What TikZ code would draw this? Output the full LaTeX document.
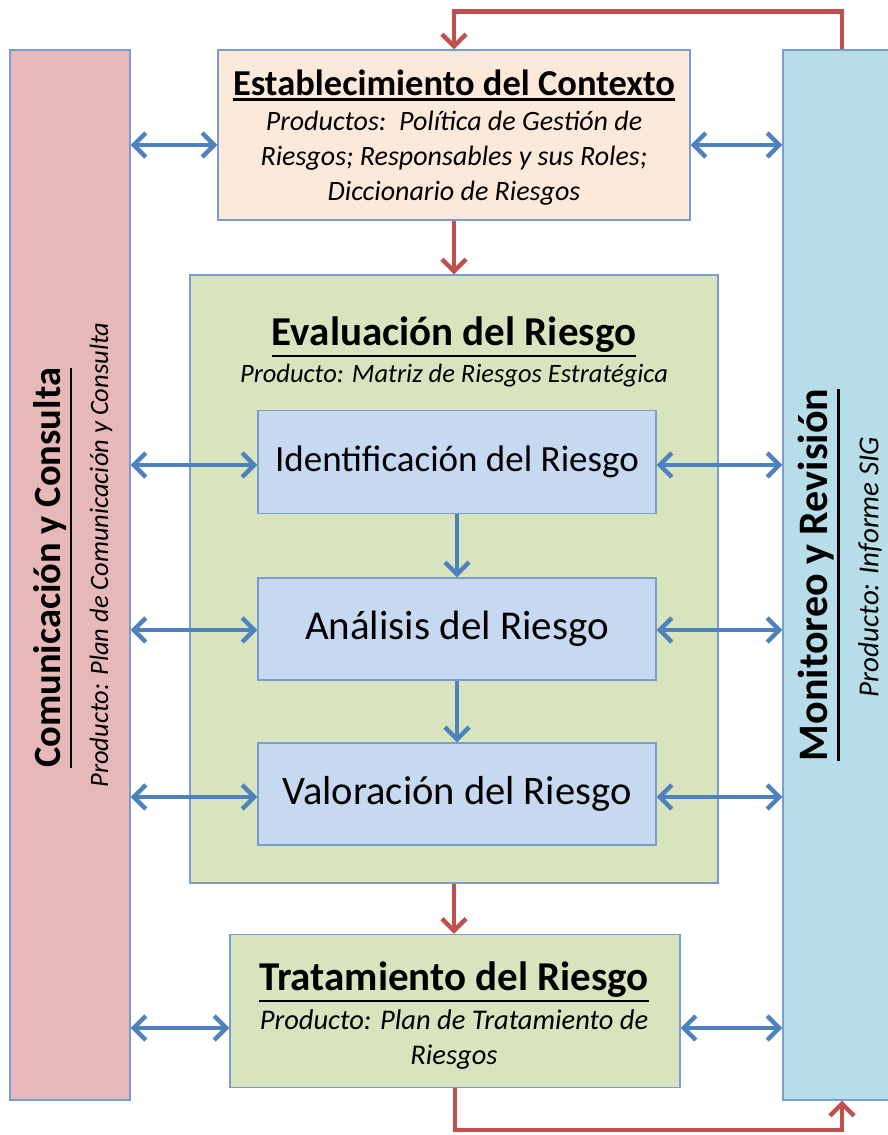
\documentclass[tikz,border=0pt]{standalone}
\usepackage{fontspec}
\setmainfont{Carlito}
\usetikzlibrary{calc, arrows.meta}

\definecolor{bordeazul}{HTML}{7A9CCF}
\definecolor{rosa}{HTML}{E6B9B8}
\definecolor{salmon}{HTML}{FDE9D9}
\definecolor{verde}{HTML}{D7E4BD}
\definecolor{celeste}{HTML}{C6D9F1}
\definecolor{turquesa}{HTML}{B7DEE8}
\definecolor{flechaazul}{HTML}{4F81BD}
\definecolor{flecharoja}{HTML}{C0504D}

\newcommand{\titulo}[2]{{\fontsize{#1}{#1}\selectfont\bfseries\setbox0\hbox{#2}\vtop{\copy0\kern3pt\hrule height 2.4pt width \wd0}}}
\newcommand{\producto}[2]{{\fontsize{#1}{#1}\selectfont\itshape #2}}

\begin{document}
\begin{tikzpicture}[x=1pt,y=-1pt,inner sep=0pt,
  caja/.style={draw=bordeazul,line width=1.2pt},
  ba/.style={flechaazul,line width=4.5pt,{Straight Barb[length=12pt,width=24pt]}-{Straight Barb[length=12pt,width=24pt]}},
  fa/.style={flechaazul,line width=4.5pt,-{Straight Barb[length=12pt,width=24pt]}},
  ra/.style={flecharoja,line width=4.5pt,-{Straight Barb[length=12pt,width=24pt]}}]
\useasboundingbox (0,0) rectangle (887,1135);
% columnas laterales
\draw node [caja,fill=rosa,minimum width=120pt,minimum height=1050pt] (com) at (70,575) {};
\draw node [caja,fill=turquesa,minimum width=118pt,minimum height=1050pt] (mon) at (842,575) {};
\node [rotate=90] (comT) at (53,568) {\titulo{38.5}{Comunicación y Consulta}};
\node [rotate=90] (comP) at (101,555) {\producto{26.5}{Producto: Plan de Comunicación y Consulta}};
\node [rotate=90] (monT) at (819,575) {\titulo{42}{Monitoreo y Revisión}};
\node [rotate=90] (monP) at (870,567) {\producto{29}{Producto: Informe SIG}};
% cajas centrales
\draw node [caja,fill=salmon,minimum width=472pt,minimum height=170pt] (ctx) at (454,135) {};
\node [anchor=base] (ctxT) at (454,95) {\titulo{36.5}{Establecimiento del Contexto}};
\node [align=center,font={\fontsize{28}{35}\selectfont\itshape}] (ctxP) at (454,158) {Productos:\ \ Política de Gestión de\\Riesgos; Responsables y sus Roles;\\Diccionario de Riesgos};
\draw node [caja,fill=verde,minimum width=528pt,minimum height=608pt] (eva) at (454,579) {};
\node [anchor=base] (evaT) at (454,345) {\titulo{41}{Evaluación del Riesgo}};
\node [anchor=base] (evaP) at (454,382) {\producto{26.5}{Producto: Matriz de Riesgos Estratégica}};
\draw node [caja,fill=celeste,minimum width=398pt,minimum height=103pt] (ide) at (457,462) {\fontsize{37}{37}\selectfont\raisebox{-4pt}{Identificación del Riesgo}};
\draw node [caja,fill=celeste,minimum width=398pt,minimum height=102pt] (ana) at (457,629) {\fontsize{41}{41}\selectfont\raisebox{-2pt}{Análisis del Riesgo}};
\draw node [caja,fill=celeste,minimum width=398pt,minimum height=102pt] (val) at (457,794) {\fontsize{40.5}{40.5}\selectfont\raisebox{-3pt}{Valoración del Riesgo}};
\draw node [caja,fill=verde,minimum width=450pt,minimum height=153pt] (tra) at (455,1011) {};
\node [anchor=base] (traT) at (454,990) {\titulo{41}{Tratamiento del Riesgo}};
\node [align=center,font={\fontsize{28.5}{35}\selectfont\itshape}] (traP) at (454,1040) {Producto: Plan de Tratamiento de\\Riesgos};
% flechas rojas
\draw [ra] (ctx.south) -- (ctx.south |- eva.north);
\draw [ra] (eva.south) -- (eva.south |- tra.north);
\draw [ra] (mon.north) |- ($(ctx.north)+(0,-38)$) -- (ctx.north);
\draw [ra] (tra.south) -- ++(0,42) -| (mon.south);
% flechas azules
\draw [fa] (ide.south) -- (ana.north);
\draw [fa] (ana.south) -- (val.north);
\draw [ba] ($(com.east |- ctx.west)+(0,10)$) -- ($(ctx.west)+(0,10)$);
\draw [ba] ($(ctx.east)+(0,10)$) -- ($(mon.west |- ctx.east)+(0,10)$);
\foreach \n/\d in {ide/3,ana/1,val/3,tra/17} {
  \draw [ba] ($(com.east |- \n.west)+(0,\d)$) -- ($(\n.west)+(0,\d)$);
  \draw [ba] ($(\n.east)+(0,\d)$) -- ($(mon.west |- \n.east)+(0,\d)$);
}
\end{tikzpicture}
\end{document}
